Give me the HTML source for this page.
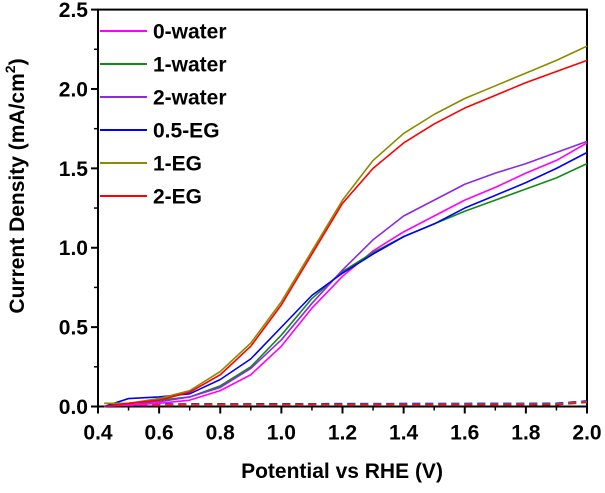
<!DOCTYPE html>
<html><head><meta charset="utf-8"><style>
body{margin:0;background:#fff;}
svg text{font-family:"Liberation Sans",Arial,sans-serif;font-weight:bold;fill:#000;}
</style></head><body>
<svg id="c" width="605" height="488" viewBox="0 0 605 488" xmlns="http://www.w3.org/2000/svg"></svg>
<script>
const xTicks=[0.4,0.6,0.8,1.0,1.2,1.4,1.6,1.8,2.0];
const yTicks=[0.0,0.5,1.0,1.5,2.0,2.5];
const seriesNames=["0-water","1-water","2-water","0.5-EG","1-EG","2-EG"];
const seriesColors=["#ff00ff","#138a13","#8a2be2","#0000ff","#8b8b00","#ff0000"];
const xs=[0.42,0.5,0.6,0.7,0.8,0.9,1.0,1.1,1.2,1.3,1.4,1.5,1.6,1.7,1.8,1.9,2.0];
const water0=[0,0.01,0.02,0.04,0.1,0.2,0.38,0.62,0.82,0.98,1.1,1.2,1.3,1.38,1.47,1.55,1.66];
const water1=[0,0.02,0.04,0.06,0.13,0.25,0.45,0.68,0.85,0.97,1.07,1.15,1.23,1.3,1.37,1.44,1.53];
const water2=[0,0.02,0.03,0.06,0.12,0.24,0.42,0.65,0.86,1.05,1.2,1.3,1.4,1.47,1.53,1.6,1.67];
const eg05=[0,0.05,0.06,0.08,0.17,0.3,0.5,0.7,0.84,0.96,1.07,1.15,1.25,1.33,1.41,1.5,1.6];
const eg1=[0.02,0.02,0.05,0.1,0.22,0.4,0.66,0.98,1.3,1.55,1.72,1.84,1.94,2.02,2.1,2.18,2.27];
const eg2=[0,0.02,0.04,0.09,0.2,0.38,0.64,0.96,1.28,1.5,1.66,1.78,1.88,1.96,2.04,2.11,2.18];
const darkXs=[0.45,1.9,2.0];
const darkVals=[0.015,0.02,0.035];
const allSeries=[water0,water1,water2,eg05,eg1,eg2];
const NS="http://www.w3.org/2000/svg";
const svg=document.getElementById('c');
const X0=98,X1=587,Y0=406.5,Y1=9.6;
const sx=v=>X0+(v-0.4)/(2.0-0.4)*(X1-X0);
const sy=v=>Y0-(v-0)/(2.5-0)*(Y0-Y1);
function mk(t,a,p){const e=document.createElementNS(NS,t);for(const k in a)e.setAttribute(k,a[k]);(p||svg).appendChild(e);return e;}
const box=mk('rect',{x:X0,y:Y1,width:X1-X0,height:Y0-Y1,fill:'none',stroke:'#000','stroke-width':2});


xTicks.forEach((v,i)=>{
  const t=mk('line',{x1:sx(v),x2:sx(v),y1:Y0,y2:Y0+7,stroke:'#000','stroke-width':2});
  
  
  if(i<xTicks.length-1){const m=mk('line',{x1:sx(v+0.1),x2:sx(v+0.1),y1:Y0,y2:Y0+4,stroke:'#000','stroke-width':1.5});
  
  }
  const l=mk('text',{x:sx(v),y:Y0+33,'font-size':21,'text-anchor':'middle'});l.textContent=v.toFixed(1);
  
  
});
yTicks.forEach((v,i)=>{
  const t=mk('line',{x1:X0-7,x2:X0,y1:sy(v),y2:sy(v),stroke:'#000','stroke-width':2});
  
  
  if(i<yTicks.length-1){const m=mk('line',{x1:X0-4,x2:X0,y1:sy(v+0.25),y2:sy(v+0.25),stroke:'#000','stroke-width':1.5});
  
  }
  const l=mk('text',{x:X0-10,y:sy(v)+7.5,'font-size':21,'text-anchor':'end'});l.textContent=v.toFixed(1);
  
  
});
seriesColors.forEach((c,i)=>{
  const d=mk('polyline',{points:darkXs.map((x,j)=>sx(x)+','+(sy(darkVals[j])+(i%3)*0.7)).join(' '),fill:'none',stroke:c,'stroke-width':1.6,'stroke-dasharray':'8,5',opacity:0.8});
  
  
});
allSeries.forEach((s,i)=>{
  const p=mk('polyline',{points:xs.map((x,j)=>sx(x)+','+sy(s[j])).join(' '),fill:'none',stroke:seriesColors[i],'stroke-width':1.6,'stroke-linejoin':'round'});
  
  
});
seriesNames.forEach((n,i)=>{
  const y=31+i*33;
  const g=mk('g',{});
  
  
  mk('line',{x1:100,x2:147,y1:y,y2:y,stroke:seriesColors[i],'stroke-width':2},g);
  const t=mk('text',{x:153,y:y+7.5,'font-size':21},g);t.textContent=n;
});
const xt=mk('text',{x:342,y:478,'font-size':21,'text-anchor':'middle'});xt.textContent='Potential  vs RHE (V)';


const yt=mk('text',{x:0,y:0,'font-size':21,'text-anchor':'middle',transform:'translate(24,186) rotate(-90)'});
yt.innerHTML='Current Density (mA/cm<tspan dy="-9" font-size="14">2</tspan><tspan dy="9">)</tspan>';


</script>
</body></html>
